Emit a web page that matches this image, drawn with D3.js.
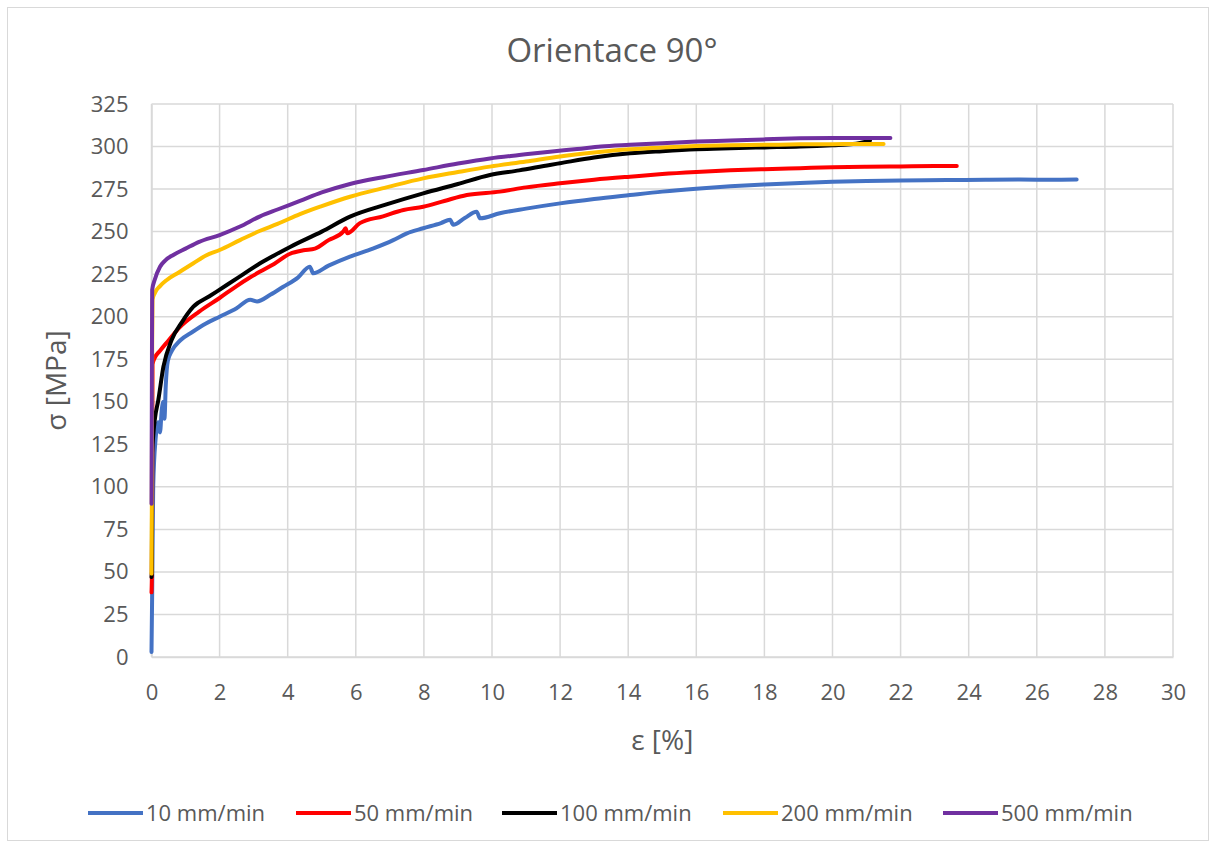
<!DOCTYPE html>
<html>
<head>
<meta charset="utf-8">
<script src="https://cdn.jsdelivr.net/npm/d3@7"></script>
<style>
  body { margin: 0; background: #fff; }
  text { font-family: "Open Sans", "Noto Sans", sans-serif; fill: #595959; }
</style>
</head>
<body>
<div id="chart"></div>
<script>
// strain [%], stress [MPa]
var s10 = [[0,3],[0.02,38],[0.05,100],[0.12,128],[0.2,138],[0.25,132],[0.3,145],[0.35,150],[0.38,140],[0.42,160],[0.48,174],[0.6,180],[0.84,186],[1.2,191],[1.6,196],[2.0,200],[2.5,205],[2.9,210],[3.1,209],[3.5,213],[3.87,217.6],[4.3,223],[4.65,229.4],[4.75,225.5],[5.2,230],[5.83,235.3],[6.5,240],[7.1,245],[7.5,249],[7.98,252],[8.5,255],[8.77,257],[8.86,254],[9.2,258],[9.55,261.7],[9.65,257.8],[10.23,260.8],[11,263.5],[12,266.6],[13,269.2],[14.05,271.5],[15,273.5],[16,275.2],[17,276.6],[18,277.7],[19.05,278.6],[20,279.3],[21,279.8],[22,280.1],[23.35,280.3],[24.5,280.5],[25.5,280.6],[26.5,280.5],[27.17,280.6]];
var s50 = [[0,38],[0.01,46],[0.02,100],[0.03,172],[0.1,176],[0.25,180],[0.5,186],[0.84,194],[1.4,203],[2.0,211],[2.5,218],[2.89,223],[3.19,226.5],[3.6,231],[4.07,237],[4.46,239],[4.8,240],[5.2,245],[5.63,250],[5.7,252],[5.75,249],[6.12,255],[6.8,259],[7.4,262.7],[7.98,264.6],[8.6,268],[9.26,271.5],[10.23,273.5],[11,276],[12,278.4],[13,280.5],[14.05,282.3],[15,283.8],[16,285],[17,286],[18,286.7],[19.05,287.3],[20,287.8],[21,288.1],[22,288.3],[23,288.5],[23.65,288.5]];
var s100 = [[0,47],[0.01,50],[0.02,120],[0.05,130],[0.1,140],[0.2,151],[0.35,170.6],[0.59,186.3],[0.9,197],[1.23,205.9],[1.7,212],[2.21,218.6],[2.7,225],[3.19,231.4],[3.6,236],[4.07,241],[5,250],[5.83,258.8],[6.9,266],[7.98,272.5],[9,278],[9.94,283.3],[10.8,286],[11.7,289.2],[12,290.2],[13,293.5],[14.05,296],[15,297.3],[16,298.4],[17,299],[18,299.5],[19.05,300],[20,300.8],[20.6,301.5],[21.1,303.5]];
var s200 = [[0,49],[0.01,90],[0.02,184],[0.03,210],[0.1,214],[0.25,218],[0.45,221.6],[0.8,226],[1.23,231.4],[1.6,236],[2.0,239.2],[2.6,245],[3.19,250.5],[3.7,254.5],[4.36,260.3],[5,265],[5.83,270.5],[6.9,276],[7.98,281.3],[9,285],[9.94,288.2],[11,291.2],[12,294.2],[13,296.5],[14.05,298.4],[15,299.5],[16,300.3],[17,300.8],[18,301],[19.05,301.3],[20,301.4],[21,301.5],[21.5,301.5]];
var s500 = [[0,90],[0.01,150],[0.02,215.7],[0.1,222],[0.25,229.4],[0.4,233],[0.64,236.3],[1.0,240],[1.4,244],[2.0,248],[2.6,253],[3.19,259],[3.7,263],[4.36,268],[5,273],[5.83,278],[6.8,282],[7.98,286.2],[9,290],[9.94,293],[10.8,295],[11.7,297],[12.5,298.5],[13.2,300],[14.05,301],[15,302],[16,302.9],[17,303.5],[18,304.2],[19.05,304.8],[20,305],[21,305],[21.7,305]];

var names = ["10 mm/min", "50 mm/min", "100 mm/min", "200 mm/min", "500 mm/min"];
var colors = ["#4472c4", "#ff0000", "#000000", "#ffc000", "#7030a0"];
var seriesData = [s10, s50, s100, s200, s500];
var xTicks = d3.range(0, 31, 2);
var yTicks = d3.range(0, 326, 25);

var W = 1216, H = 848;
var margin = {top: 104, right: 43, bottom: 191, left: 151.5},
    width = W - margin.left - margin.right,
    height = H - margin.top - margin.bottom;

var svg = d3.select("#chart")
  .append("svg")
    .attr("width", W)
    .attr("height", H);

svg.append("rect")
  .attr("x", 7.5).attr("y", 7.5)
  .attr("width", 1201).attr("height", 833)
  .attr("fill", "#fff")
  .attr("stroke", "#d9d9d9");

var g = svg.append("g")
  .attr("transform", "translate(" + margin.left + "," + margin.top + ")");

var x = d3.scaleLinear().domain([0, 30]).range([0, width]);
var y = d3.scaleLinear().domain([0, 325]).range([height, 0]);

// gridlines
g.selectAll(".vgrid").data(xTicks).enter().append("line")
  .attr("x1", function(d) { return x(d); }).attr("x2", function(d) { return x(d); })
  .attr("y1", 0).attr("y2", height)
  .attr("stroke", "#d9d9d9").attr("stroke-width", 1.5);
g.selectAll(".hgrid").data(yTicks).enter().append("line")
  .attr("x1", 0).attr("x2", width)
  .attr("y1", function(d) { return y(d); }).attr("y2", function(d) { return y(d); })
  .attr("stroke", "#d9d9d9").attr("stroke-width", 1.5);

var xAxis = g.append("g")
  .attr("transform", "translate(0," + height + ")")
  .call(d3.axisBottom(x).tickValues(xTicks).tickSize(0).tickPadding(26));
var yAxis = g.append("g")
  .call(d3.axisLeft(y).tickValues(yTicks).tickSize(0).tickPadding(23));
[xAxis, yAxis].forEach(function(a) {
  a.select(".domain").attr("stroke", "#d9d9d9").attr("stroke-width", 1.5);
  a.selectAll("text").style("font-size", "22px").style("fill", "#595959")
    .style("font-family", "'Open Sans', sans-serif");
});
xAxis.selectAll("text").attr("dy", "0.35em").attr("y", 35);

var line = d3.line()
  .curve(d3.curveMonotoneX)
  .x(function(d) { return x(d[0]); })
  .y(function(d) { return y(d[1]); });

seriesData.forEach(function(s, i) {
  g.append("path")
    .datum(s)
    .attr("d", line)
    .attr("fill", "none")
    .attr("stroke", colors[i])
    .attr("stroke-width", 4)
    .attr("stroke-linejoin", "round")
    .attr("stroke-linecap", "round");
});

svg.append("text")
  .attr("x", 612).attr("y", 62)
  .attr("text-anchor", "middle")
  .style("font-size", "33px")
  .text("Orientace 90°");

svg.append("text")
  .attr("x", margin.left + width / 2).attr("y", 750)
  .attr("text-anchor", "middle")
  .style("font-size", "28px")
  .text("ε [%]");

svg.append("text")
  .attr("transform", "translate(66," + (margin.top + height / 2) + ") rotate(-90)")
  .attr("text-anchor", "middle")
  .style("font-size", "28px")
  .text("σ [MPa]");

// legend
var legX = [88, 296, 502, 723, 943];
var leg = svg.selectAll(".leg").data(names).enter().append("g")
  .attr("transform", function(d, i) { return "translate(" + legX[i] + ",813)"; });
leg.append("line")
  .attr("x1", 0).attr("x2", 55).attr("y1", 0).attr("y2", 0)
  .attr("stroke", function(d, i) { return colors[i]; })
  .attr("stroke-width", 4);
leg.append("text")
  .attr("x", 58).attr("y", 8)
  .style("font-size", "22px")
  .text(function(d) { return d; });
</script>
</body>
</html>
